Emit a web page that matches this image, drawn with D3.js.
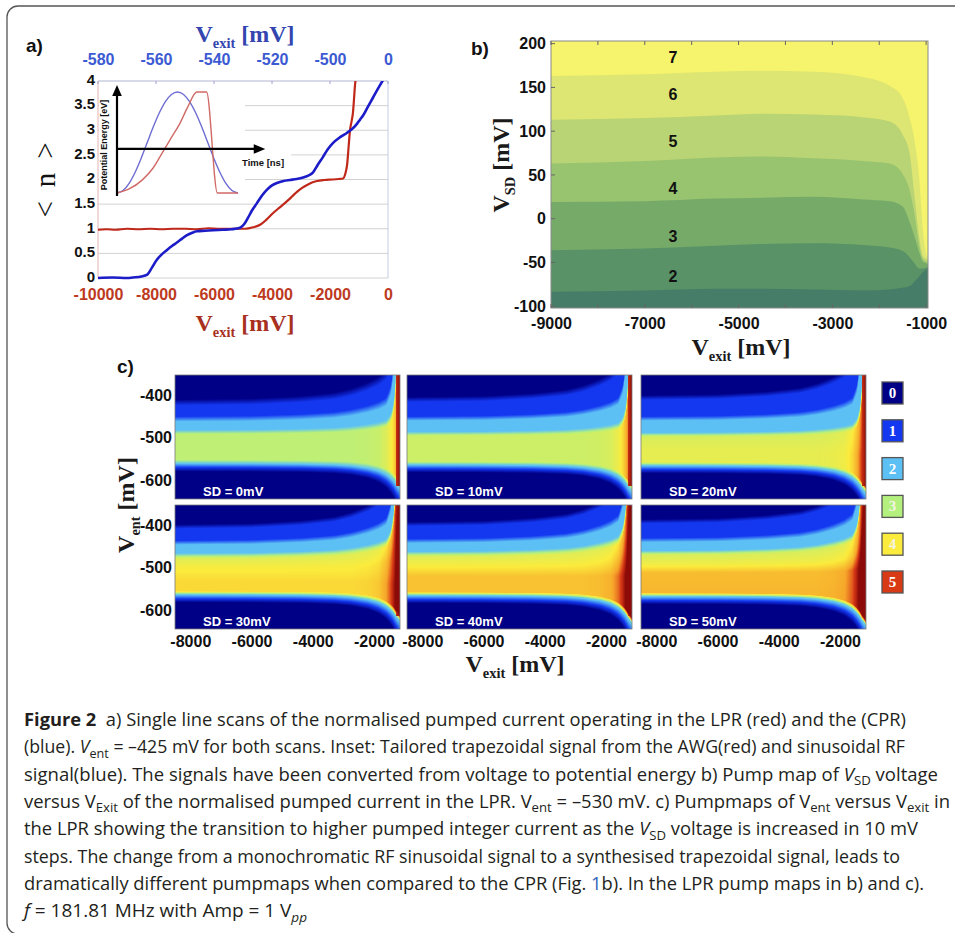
<!DOCTYPE html>
<html>
<head>
<meta charset="utf-8">
<script src="https://cdn.jsdelivr.net/npm/d3@7"></script>
<style>
  body { margin: 0; background: #fff; }
  svg { display: block; }
</style>
</head>
<body>
<svg id="fig" width="955" height="933"></svg>
<script>
// ---------------- data: panel a (single line scans) ----------------
const nTicks = [0, 0.5, 1, 1.5, 2, 2.5, 3, 3.5, 4];
const bottomTicks = [-10000, -8000, -6000, -4000, -2000, 0];
const topTickValues = [-580, -560, -540, -520, -500, -480];
const topTickLabels = ["-580", "-560", "-540", "-520", "-500", "0"];

// CPR scan (blue)
const cprVexit = [-10000, -9500, -9000, -8800, -8500, -8300, -8150, -7970, -7800, -7620, -7450, -7280, -7100, -6930, -6750, -6590, -6300, -6030, -5700, -5400, -5100, -4950, -4830, -4680, -4520, -4350, -4180, -4000, -3830, -3600, -3380, -3150, -2930, -2750, -2590, -2420, -2240, -2070, -1900, -1650, -1410, -1250, -1070, -960, -860, -700, -520, -350, -170];
const cprN = [0.0, 0.01, 0.0, 0.01, 0.03, 0.07, 0.2, 0.37, 0.48, 0.57, 0.65, 0.72, 0.8, 0.87, 0.92, 0.95, 0.96, 0.97, 0.98, 0.99, 1.02, 1.1, 1.22, 1.38, 1.52, 1.67, 1.79, 1.88, 1.93, 1.97, 1.99, 2.01, 2.04, 2.08, 2.14, 2.3, 2.46, 2.62, 2.74, 2.86, 2.95, 3.02, 3.13, 3.22, 3.3, 3.47, 3.66, 3.84, 4.02];

// LPR scan (red)
const lprVexit = [-10000, -9700, -9400, -9000, -8600, -8200, -7800, -7400, -7000, -6600, -6200, -5800, -5400, -4930, -4650, -4410, -4200, -3960, -3720, -3480, -3300, -3140, -2960, -2790, -2620, -2450, -2200, -1900, -1700, -1550, -1470, -1410, -1360, -1310, -1250, -1210, -1170, -1140, -1100];
const lprN = [0.98, 0.99, 0.98, 1.0, 0.99, 1.0, 0.99, 1.0, 1.0, 0.99, 1.01, 1.0, 1.0, 1.0, 1.03, 1.08, 1.18, 1.32, 1.44, 1.56, 1.66, 1.75, 1.83, 1.89, 1.94, 1.97, 1.99, 2.0, 2.01, 2.02, 2.12, 2.3, 2.65, 3.0, 3.2, 3.35, 3.65, 3.9, 4.1];

// inset waveforms (normalised time, normalised potential energy)
const sineT = [0, 0.05, 0.1, 0.15, 0.2, 0.25, 0.3, 0.35, 0.4, 0.45, 0.5, 0.55, 0.6, 0.65, 0.7, 0.75, 0.8, 0.85, 0.9, 0.95, 1];
const sineE = [0, 0.024, 0.095, 0.206, 0.345, 0.5, 0.655, 0.794, 0.905, 0.976, 1, 0.976, 0.905, 0.794, 0.655, 0.5, 0.345, 0.206, 0.095, 0.024, 0];
const trapT = [0, 0.1, 0.21, 0.3, 0.38, 0.45, 0.52, 0.58, 0.66, 0.74, 0.83, 1.0];
const trapE = [0, 0.04, 0.13, 0.25, 0.41, 0.55, 0.69, 0.84, 1, 1, 0, 0];

// ---------------- data: panel b (V_SD pump map) ----------------
const bXTicks = [-9000, -7000, -5000, -3000, -1000];
const bXMinor = [-9000, -8000, -7000, -6000, -5000, -4000, -3000, -2000, -1000];
const bYTicks = [-100, -50, 0, 50, 100, 150, 200];
const boundaryVexit = [-9000, -7000, -5500, -4500, -3400, -2350, -1780, -1500, -1350, -1250, -1150, -1070, -1000, -960];
// plateau boundaries, from the 6|7 edge down to the 1|2 edge
const boundary67 = [163, 165, 168, 169, 168, 162, 152, 138, 115, 90, 48, -13, -40, -44];
const boundary56 = [113, 115, 118, 120, 119, 116, 111, 96, 74, 27, -20, -43, -46, -47];
const boundary45 = [63, 66, 70, 71, 69, 66, 63, 51, 32, 6, -30, -46, -49, -50];
const boundary34 = [19, 20, 23, 24, 25, 22, 20, 14, -4, -20, -38, -49, -51, -52];
const boundary23 = [-36, -34, -31, -29, -28, -30, -33, -37, -44, -51, -57, -57, -56, -55];
const boundary12 = [-83.5, -82, -80, -80, -81, -82, -81, -79, -77, -72, -66, -61, -58, -57];
const plateauColors = ["#f6f36c", "#dde672", "#b9d474", "#98c470", "#76aa69", "#589266", "#467d68"];
const plateauLabelVsd = [185, 143, 89, 35, -20, -66];
const plateauLabelText = ["7", "6", "5", "4", "3", "2"];
const plateauLabelVexit = -6400;

// ---------------- data: panel c (V_ent vs V_exit pump maps) ----------------
const sdLabels = ["SD = 0mV", "SD = 10mV", "SD = 20mV", "SD = 30mV", "SD = 40mV", "SD = 50mV"];
const cXTicks = [-8000, -6000, -4000, -2000];
const cYTicks = [-400, -500, -600];
// pumped-current profile along V_ent on the flat (low |V_exit|) side of each map
const profileVent = [
  [-352, -410, -424, -450, -462, -482, -492, -552, -560, -566, -572, -580, -645],
  [-352, -404, -416, -450, -460, -486, -496, -556, -563, -569, -575, -582, -645],
  [-352, -400, -411, -450, -460, -488, -498, -530, -558, -565, -571, -577, -584, -645],
  [-352, -398, -408, -436, -446, -466, -478, -500, -530, -556, -563, -569, -575, -582, -645],
  [-352, -392, -402, -432, -442, -462, -474, -496, -520, -558, -565, -571, -577, -584, -645],
  [-352, -386, -396, -430, -440, -460, -470, -492, -512, -560, -567, -573, -579, -586, -645]
];
const profileLevel = [
  [0, 0, 1, 1, 2, 2, 3.15, 3.15, 2.2, 1.5, 0.8, 0, 0],
  [0, 0, 1, 1, 2, 2, 3.35, 3.35, 2.2, 1.5, 0.8, 0, 0],
  [0, 0, 1, 1, 2, 2, 3.5, 3.7, 3.7, 2.2, 1.5, 0.8, 0, 0],
  [0, 0, 1, 1, 2, 2, 3.6, 3.95, 4.15, 4.15, 2.2, 1.5, 0.8, 0, 0],
  [0, 0, 1, 1, 2, 2, 3.6, 3.95, 4.35, 4.35, 2.2, 1.5, 0.8, 0, 0],
  [0, 0, 1, 1, 2, 2, 3.5, 3.85, 4.4, 4.45, 2.2, 1.5, 0.8, 0, 0]
];
// fan-out of the plateaus as V_exit approaches the open side
const warpCenter = -520;
const warpVexit = [-8500, -6000, -4400, -3300, -2750, -2200, -1850, -1600, -1450, -1350, -1280, -1150];
const upperStretch = [1.0, 0.98, 0.93, 0.87, 0.81, 0.73, 0.67, 0.61, 0.48, 0.33, 0.19, 0.1];
const lowerStretch = [1.0, 0.99, 0.97, 0.93, 0.88, 0.79, 0.70, 0.61, 0.54, 0.49, 0.45, 0.4];
const middleBoost = [0, 0, 0, 0, 0, 0.05, 0.15, 0.45, 0.8, 1.1, 1.4, 1.6];
const edgeVexit = [-1290, -1150];
const edgeLevel = [5.05, 5.4];
const edgeFloorVent = -615;

const levelStops = [0, 1, 2, 3, 4, 4.6, 5, 5.4];
const levelColors = ["#000087", "#1438f0", "#5cc0f5", "#b4f07e", "#fbeb3c", "#f6a52a", "#d83a16", "#8c0a08"];
const legendLevels = [0, 1, 2, 3, 4, 5];

// ---------------- caption ----------------
const captionLines = [
  [{t: "Figure 2", b: 1}, {t: "  a) Single line scans of the normalised pumped current operating in the LPR (red) and the (CPR)"}],
  [{t: "(blue). "}, {t: "V", i: 1}, {t: "ent", sub: 1}, {t: " = –425 mV for both scans. Inset: Tailored trapezoidal signal from the AWG(red) and sinusoidal RF"}],
  [{t: "signal(blue). The signals have been converted from voltage to potential energy b) Pump map of "}, {t: "V", i: 1}, {t: "SD", sub: 1}, {t: " voltage"}],
  [{t: "versus V"}, {t: "Exit", sub: 1}, {t: " of the normalised pumped current in the LPR. V"}, {t: "ent", sub: 1}, {t: " = –530 mV. c) Pumpmaps of V"}, {t: "ent", sub: 1}, {t: " versus V"}, {t: "exit", sub: 1}, {t: " in"}],
  [{t: "the LPR showing the transition to higher pumped integer current as the "}, {t: "V", i: 1}, {t: "SD", sub: 1}, {t: " voltage is increased in 10 mV"}],
  [{t: "steps. The change from a monochromatic RF sinusoidal signal to a synthesised trapezoidal signal, leads to"}],
  [{t: "dramatically different pumpmaps when compared to the CPR (Fig. "}, {t: "1", link: 1}, {t: "b). In the LPR pump maps in b) and c)."}],
  [{t: "f", i: 1}, {t: " = 181.81 MHz with Amp = 1 V"}, {t: "pp", sub: 1, i: 1}]
];
const captionLineEnds = [906, 905, 938, 950, 918, 900, 924, 307];

// ---------------- drawing ----------------
const SANS = "'Liberation Sans', Arial, Helvetica, sans-serif";
const SERIF = "'Liberation Serif', 'Times New Roman', serif";
const TICK = 16;
const svg = d3.select("#fig");

// outer figure frame
svg.append("rect")
  .attr("x", 7).attr("y", 6).attr("width", 990).attr("height", 928).attr("rx", 11)
  .attr("fill", "none").attr("stroke", "#555").attr("stroke-width", 1.3);

function panelLetter(x, y, s) {
  svg.append("text").attr("x", x).attr("y", y).attr("font-family", SANS)
    .attr("font-weight", "bold").attr("font-size", 19).attr("fill", "#111").text(s);
}

function vTitle(parent, x, y, sub, color, size, rotate) {
  const t = parent.append("text")
    .attr("font-family", SERIF).attr("font-weight", "bold").attr("font-size", size)
    .attr("fill", color).attr("text-anchor", "middle").style("white-space", "pre")
    .attr("transform", rotate ? `translate(${x},${y}) rotate(-90)` : `translate(${x},${y})`);
  t.append("tspan").text("V");
  t.append("tspan").attr("font-size", size * 0.6).attr("dy", size * 0.24).text(sub);
  t.append("tspan").attr("dy", -size * 0.24).text(" [mV]");
  return t;
}

function styleAxis(g, color, size) {
  g.select(".domain").remove();
  g.selectAll("text").attr("font-family", SANS).attr("font-weight", "bold")
    .attr("font-size", size).attr("fill", color);
}

// ===== panel a =====
panelLetter(26, 52, "a)");
const ax = d3.scaleLinear().domain([-10000, 0]).range([98, 388]);
const axTop = d3.scaleLinear().domain([-580, -480]).range([98, 388]);
const ay = d3.scaleLinear().domain([0, 4]).range([278, 81]);
const pa = svg.append("g");

pa.append("rect").attr("x", ax(-10000)).attr("y", ay(4)).attr("width", ax(0) - ax(-10000))
  .attr("height", ay(0) - ay(4)).attr("fill", "#fff");
pa.selectAll("line.grid").data(nTicks).join("line").attr("class", "grid")
  .attr("x1", ax(-10000)).attr("x2", ax(0)).attr("y1", d => ay(d)).attr("y2", d => ay(d))
  .attr("stroke", "#d2d2d2").attr("stroke-width", 1);

// inset: trapezoidal vs sinusoidal drive
const ix = d3.scaleLinear().domain([0, 1]).range([117, 238]);
const iy = d3.scaleLinear().domain([0, 1]).range([193, 92]);
pa.append("rect").attr("x", ax(-10000) + 1).attr("y", ay(4) + 1).attr("width", 146).attr("height", ay(1.8) - ay(4))
  .attr("fill", "#fff");
pa.append("rect").attr("x", 239).attr("y", ay(2.62)).attr("width", 52).attr("height", ay(2.38) - ay(2.62))
  .attr("fill", "#fff");
const insetLine = d3.line().x(d => ix(d[0])).y(d => iy(d[1])).curve(d3.curveMonotoneX);
pa.append("path").datum(d3.zip(sineT, sineE)).attr("d", insetLine)
  .attr("fill", "none").attr("stroke", "#6d6dd2").attr("stroke-width", 1.4);
pa.append("path").datum(d3.zip(trapT, trapE)).attr("d", insetLine)
  .attr("fill", "none").attr("stroke", "#d06a66").attr("stroke-width", 1.4);
const axisY0 = 0.436;
pa.append("line").attr("x1", ix(0)).attr("x2", ix(0)).attr("y1", iy(-0.03)).attr("y2", iy(0.98))
  .attr("stroke", "#000").attr("stroke-width", 2.2);
pa.append("path").attr("d", `M${ix(0)},${iy(1.07)} L${ix(0) - 4.8},${iy(0.96)} L${ix(0) + 4.8},${iy(0.96)} Z`).attr("fill", "#000");
pa.append("line").attr("x1", ix(0)).attr("x2", ix(1.14)).attr("y1", iy(axisY0)).attr("y2", iy(axisY0))
  .attr("stroke", "#000").attr("stroke-width", 2.2);
pa.append("path").attr("d", `M${ix(1.225)},${iy(axisY0)} L${ix(1.13)},${iy(axisY0) - 4.8} L${ix(1.13)},${iy(axisY0) + 4.8} Z`).attr("fill", "#000");
pa.append("text").attr("x", 242).attr("y", 166).attr("font-family", SANS).attr("font-weight", "bold")
  .attr("font-size", 9.5).attr("fill", "#111").text("Time [ns]");
pa.append("text").attr("transform", `translate(107,145) rotate(-90)`).attr("text-anchor", "middle")
  .attr("font-family", SANS).attr("font-weight", "bold").attr("font-size", 9).attr("fill", "#111")
  .text("Potential Energy [eV]");

// plot frame
pa.append("line").attr("x1", ax(-10000)).attr("x2", ax(-10000)).attr("y1", ay(4)).attr("y2", ay(0)).attr("stroke", "#e4b4b4");
pa.append("line").attr("x1", ax(0)).attr("x2", ax(0)).attr("y1", ay(4)).attr("y2", ay(0)).attr("stroke", "#c8cbe6");
pa.append("line").attr("x1", ax(-10000)).attr("x2", ax(0)).attr("y1", ay(4)).attr("y2", ay(4)).attr("stroke", "#c8cbe6");
pa.selectAll("line.ttick").data(topTickValues).join("line").attr("class", "ttick")
  .attr("x1", d => axTop(d)).attr("x2", d => axTop(d)).attr("y1", ay(4)).attr("y2", ay(4) + 3).attr("stroke", "#9aa0d0");

// scans
svg.append("clipPath").attr("id", "clipA").append("rect")
  .attr("x", ax(-10000)).attr("y", ay(4)).attr("width", ax(0) - ax(-10000)).attr("height", ay(0) - ay(4) + 3);
const scanLine = d3.line().x(d => ax(d[0])).y(d => ay(d[1])).curve(d3.curveMonotoneX);
pa.append("path").datum(d3.zip(lprVexit, lprN)).attr("d", scanLine).attr("clip-path", "url(#clipA)")
  .attr("fill", "none").attr("stroke", "#c0281a").attr("stroke-width", 2.2);
pa.append("path").datum(d3.zip(cprVexit, cprN)).attr("d", scanLine).attr("clip-path", "url(#clipA)")
  .attr("fill", "none").attr("stroke", "#1c1cc8").attr("stroke-width", 2.6);

// axes
const gaB = pa.append("g").attr("transform", `translate(0,${ay(0)})`)
  .call(d3.axisBottom(ax).tickValues(bottomTicks).tickSize(0).tickPadding(11).tickFormat(d => String(d)));
styleAxis(gaB, "#be3a1e", TICK);
const gaT = pa.append("g").attr("transform", `translate(0,${ay(4)})`)
  .call(d3.axisTop(axTop).tickValues(topTickValues).tickSize(0).tickPadding(16).tickFormat((d, i) => topTickLabels[i]));
styleAxis(gaT, "#3c5ad2", TICK);
const gaL = pa.append("g").attr("transform", `translate(${ax(-10000)},0)`)
  .call(d3.axisLeft(ay).tickValues(nTicks).tickSize(0).tickPadding(3).tickFormat(d => String(d)));
styleAxis(gaL, "#111", 15);
gaL.selectAll("text").attr("dy", "0.22em");
vTitle(pa, 245, 42, "exit", "#3346b0", 24, false);
vTitle(pa, 245, 331, "exit", "#a8301e", 24, false);
pa.append("text").attr("transform", "translate(55,180) rotate(-90)").attr("text-anchor", "middle")
  .attr("font-family", SERIF).attr("font-size", 29).attr("fill", "#111").style("white-space", "pre")
  .attr("textLength", 75).attr("lengthAdjust", "spacing").text("< n >");

// ===== panel b =====
panelLetter(471, 55, "b)");
const bx = d3.scaleLinear().domain([-9000, -960]).range([551, 928]);
const by = d3.scaleLinear().domain([-102, 203]).range([308, 41]);
const pb = svg.append("g");
pb.append("rect").attr("x", bx(-9000)).attr("y", by(203)).attr("width", bx(-960) - bx(-9000))
  .attr("height", by(-102) - by(203)).attr("fill", plateauColors[0]);
const boundaries = [boundary67, boundary56, boundary45, boundary34, boundary23, boundary12];
const plateauArea = d3.area().x(d => bx(d[0])).y0(by(-102)).y1(d => by(d[1])).curve(d3.curveMonotoneX);
boundaries.forEach((bd, k) => {
  pb.append("path").datum(d3.zip(boundaryVexit, bd)).attr("d", plateauArea).attr("fill", plateauColors[k + 1]);
});
pb.selectAll("text.lvl").data(plateauLabelText).join("text").attr("class", "lvl")
  .attr("x", bx(plateauLabelVexit)).attr("y", (d, i) => by(plateauLabelVsd[i]) + 6)
  .attr("text-anchor", "middle").attr("font-family", SANS).attr("font-weight", "bold")
  .attr("font-size", 16).attr("fill", "#111").text(d => d);
pb.append("rect").attr("x", bx(-9000)).attr("y", by(203)).attr("width", bx(-960) - bx(-9000))
  .attr("height", by(-102) - by(203)).attr("fill", "none").attr("stroke", "#8a8a8a").attr("stroke-width", 1);
// inward ticks
pb.selectAll("line.bxt").data(bXMinor).join("line").attr("class", "bxt")
  .attr("x1", d => bx(d)).attr("x2", d => bx(d)).attr("y1", by(-102)).attr("y2", by(-102) - 4).attr("stroke", "#666");
pb.selectAll("line.bxt2").data(bXMinor).join("line").attr("class", "bxt2")
  .attr("x1", d => bx(d)).attr("x2", d => bx(d)).attr("y1", by(203)).attr("y2", by(203) + 4).attr("stroke", "#666");
pb.selectAll("line.byt").data(bYTicks).join("line").attr("class", "byt")
  .attr("x1", bx(-9000)).attr("x2", bx(-9000) + 4).attr("y1", d => by(d)).attr("y2", d => by(d)).attr("stroke", "#666");
const gbB = pb.append("g").attr("transform", `translate(0,${by(-102)})`)
  .call(d3.axisBottom(bx).tickValues(bXTicks).tickSize(0).tickPadding(10).tickFormat(d => String(d)));
styleAxis(gbB, "#111", TICK);
const gbL = pb.append("g").attr("transform", `translate(${bx(-9000)},0)`)
  .call(d3.axisLeft(by).tickValues(bYTicks).tickSize(0).tickPadding(5).tickFormat(d => String(d)));
styleAxis(gbL, "#111", TICK);
vTitle(pb, 741, 355, "exit", "#1a1a1a", 24, false);
vTitle(pb, 509, 165, "SD", "#1a1a1a", 24, true);

// ===== panel c =====
panelLetter(117, 373, "c)");
const cW = 225, cH = 124;
const colX = [175, 407, 641];
const rowY = [375, 505];
const cx = d3.scaleLinear().domain([-8500, -1150]).range([0, cW]);
const cy = d3.scaleLinear().domain([-352, -645]).range([0, cH]);
const colorScale = d3.scaleLinear().domain(levelStops).range(levelColors).clamp(true);
const upper = d3.scaleLinear().domain(warpVexit).range(upperStretch).clamp(true);
const lower = d3.scaleLinear().domain(warpVexit).range(lowerStretch).clamp(true);
const boost = d3.scaleLinear().domain(warpVexit).range(middleBoost).clamp(true);
const edge = d3.scaleLinear().domain(edgeVexit).range(edgeLevel).clamp(true);

function levelAt(vx, ve, prof) {
  const d = ve - warpCenter;
  const vw = warpCenter + d * (d > 0 ? upper(vx) : lower(vx));
  let lv = prof(vw);
  if (lv > 2.5) lv += boost(vx) * Math.min(1, (lv - 2.5) / 0.7);
  if (vx > edgeVexit[0] && ve > edgeFloorVent) lv = Math.max(lv, edge(vx));
  return lv;
}

function renderMap(k) {
  const prof = d3.scaleLinear().domain(profileVent[k]).range(profileLevel[k]).clamp(true);
  const canvas = document.createElement("canvas");
  canvas.width = cW; canvas.height = cH;
  const ctx = canvas.getContext("2d");
  const img = ctx.createImageData(cW, cH);
  for (let j = 0; j < cH; j++) {
    const ve = cy.invert(j + 0.5);
    for (let i = 0; i < cW; i++) {
      const vx = cx.invert(i + 0.5);
      const c = d3.rgb(colorScale(levelAt(vx, ve, prof)));
      const p = (j * cW + i) * 4;
      img.data[p] = c.r; img.data[p + 1] = c.g; img.data[p + 2] = c.b; img.data[p + 3] = 255;
    }
  }
  ctx.putImageData(img, 0, 0);
  return canvas.toDataURL();
}

const pc = svg.append("g");
sdLabels.forEach((lab, k) => {
  const x0 = colX[k % 3], y0 = rowY[Math.floor(k / 3)];
  const g = pc.append("g").attr("transform", `translate(${x0},${y0})`);
  g.append("image").attr("href", renderMap(k)).attr("x", 0).attr("y", 0)
    .attr("width", cW).attr("height", cH).attr("preserveAspectRatio", "none");
  g.append("rect").attr("width", cW).attr("height", cH).attr("fill", "none")
    .attr("stroke", "#7a7a7a").attr("stroke-width", 0.8);
  g.append("text").attr("x", 28).attr("y", cH - 3).attr("font-family", SANS).attr("font-weight", "bold")
    .attr("font-size", 13).attr("fill", "#fff").text(lab);
  if (k % 3 === 0) {
    const gl = g.append("g").call(d3.axisLeft(cy).tickValues(cYTicks).tickSize(0).tickPadding(3).tickFormat(d => String(d)));
    styleAxis(gl, "#111", TICK);
  }
  if (k >= 3) {
    const gb = g.append("g").attr("transform", `translate(0,${cH})`)
      .call(d3.axisBottom(cx).tickValues(cXTicks).tickSize(0).tickPadding(7).tickFormat(d => String(d)));
    styleAxis(gb, "#111", TICK);
  }
});
vTitle(pc, 515, 672, "exit", "#1a1a1a", 24, false);
vTitle(pc, 134, 505, "ent", "#1a1a1a", 24, true);

// colour key
const ly = d3.scalePoint().domain(legendLevels).range([382, 571]);
const lg = pc.append("g");
lg.selectAll("rect").data(legendLevels).join("rect")
  .attr("x", 882).attr("y", d => ly(d)).attr("width", 21).attr("height", 22)
  .attr("fill", d => colorScale(d)).attr("stroke", "#555").attr("stroke-width", 1.3);
lg.selectAll("text").data(legendLevels).join("text")
  .attr("x", 892.5).attr("y", d => ly(d) + 16).attr("text-anchor", "middle")
  .attr("font-family", SERIF).attr("font-weight", "bold").attr("font-size", 15)
  .attr("fill", d => d === 3 || d === 4 ? "#f4f4e4" : "#fff").text(d => d);

// ===== caption =====
const capG = svg.append("g");
captionLines.forEach((segs, li) => {
  const t = capG.append("text").attr("x", 24).attr("y", 726 + li * 27.3)
    .attr("font-family", "'Open Sans', 'Noto Sans', sans-serif").attr("font-size", 17.5)
    .attr("fill", "#231f20").style("white-space", "pre")
    .attr("textLength", captionLineEnds[li] - 24).attr("lengthAdjust", "spacingAndGlyphs");
  let shifted = false;
  segs.forEach(s => {
    const ts = t.append("tspan").text(s.t);
    if (s.b) ts.attr("font-weight", "bold");
    if (s.i) ts.attr("font-style", "italic");
    if (s.link) ts.attr("fill", "#2b63b8");
    if (s.sub && !shifted) { ts.attr("dy", 4.5).attr("font-size", 12.5); shifted = true; }
    else if (s.sub) ts.attr("font-size", 12.5);
    else if (shifted) { ts.attr("dy", -4.5); shifted = false; }
  });
});
</script>
</body>
</html>
